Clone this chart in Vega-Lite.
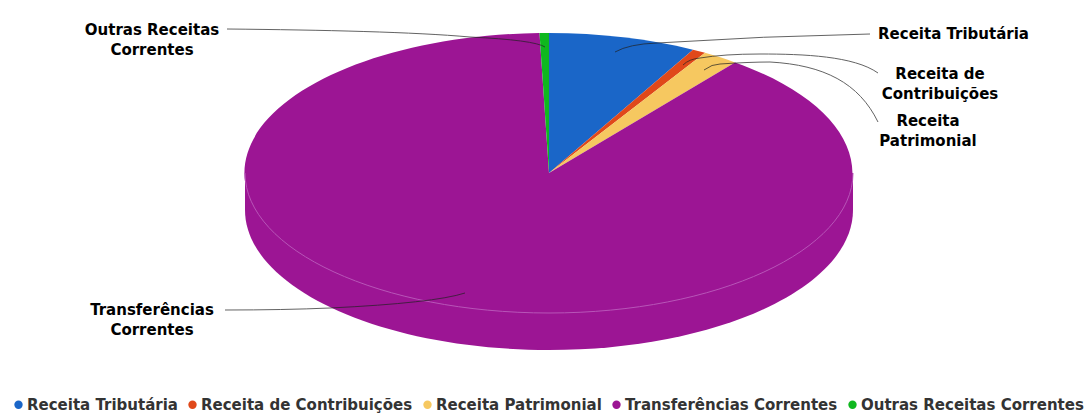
{
  "$schema": "https://vega.github.io/schema/vega-lite/v6.json",
  "width": 1088,
  "height": 346,
  "padding": {"left": 0, "top": 0, "right": 0, "bottom": 68},
  "autosize": "none",
  "background": "white",
  "config": {"view": {"stroke": null}},
  "data": {"values": [
    {"fonte": "Receita Tributária", "rotulo": "Receita Tributária", "percentual": 7.9},
    {"fonte": "Receita de Contribuições", "rotulo": "Receita de\nContribuições", "percentual": 0.8},
    {"fonte": "Receita Patrimonial", "rotulo": "Receita\nPatrimonial", "percentual": 1.9},
    {"fonte": "Transferências Correntes", "rotulo": "Transferências\nCorrentes", "percentual": 88.9},
    {"fonte": "Outras Receitas Correntes", "rotulo": "Outras Receitas\nCorrentes", "percentual": 0.5}
  ]},
  "layer": [
    {
      "transform": [{"filter": "datum.fonte === 'Transferências Correntes'"}],
      "mark": {"type": "point", "filled": true, "opacity": 1, "size": 4, "shape": "M-299,0 L-299,37 A304,140 0 0 0 309,37 L309,0 Z", "color": "#9c1594"}
    },
    {
      "mark": {"type": "point", "filled": true, "opacity": 1, "size": 4},
      "encoding": {
        "color": {"field": "fonte", "type": "nominal", "sort": null,
          "scale": {"domain": ["Receita Tributária", "Receita de Contribuições", "Receita Patrimonial", "Transferências Correntes", "Outras Receitas Correntes"], "range": ["#1a66c8", "#e0481a", "#f6c860", "#9c1594", "#0fb81f"]},
          "legend": {"title": null, "orient": "none", "legendX": 11, "legendY": 397, "direction": "horizontal", "columns": 5, "gridAlign": "each", "columnPadding": 7, "symbolType": "circle", "symbolSize": 70, "symbolOffset": 0, "labelOffset": 1, "labelFont": "DejaVu Sans", "labelFontWeight": "bold", "labelFontSize": 15, "labelColor": "#333333", "labelLimit": 400, "padding": 0}
        },
        "shape": {"field": "rotulo", "type": "nominal", "legend": null,
          "scale": {"domain": ["Receita Tributária", "Receita de\nContribuições", "Receita\nPatrimonial", "Transferências\nCorrentes", "Outras Receitas\nCorrentes"],
            "range": [
              "M5,0 L5,-140 A304,140 0 0 1 149,-123.3 Z",
              "M5,0 L149,-123.3 A304,140 0 0 1 161,-120.2 Z",
              "M5,0 L161,-120.2 A304,140 0 0 1 191,-110.6 Z",
              "M5,0 L191,-110.6 A304,140 0 1 1 -4.5,-140 Z",
              "M5,0 L-4.5,-140 A304,140 0 0 1 5,-140 Z"
            ]}}
      }
    },
    {
      "transform": [{"filter": "datum.fonte === 'Transferências Correntes'"}],
      "mark": {"type": "point", "filled": false, "opacity": 1, "size": 4, "stroke": "#b855b8", "strokeWidth": 1, "shape": "M-299,0 A304,140 0 0 0 309,0"}
    },
    {
      "transform": [{"filter": "datum.fonte === 'Receita Tributária'"}],
      "mark": {"type": "point", "filled": false, "opacity": 0.7, "size": 4, "stroke": "#222222", "strokeWidth": 1, "shape": "M71,-121 Q85,-129 113,-130 Q220,-137 326,-139"}
    },
    {
      "transform": [{"filter": "datum.fonte === 'Receita de Contribuições'"}],
      "mark": {"type": "point", "filled": false, "opacity": 0.7, "size": 4, "stroke": "#222222", "strokeWidth": 1, "shape": "M139,-108 Q145,-114 156,-115 Q180,-119 216,-119 C260,-119 310,-117 334,-100"}
    },
    {
      "transform": [{"filter": "datum.fonte === 'Receita Patrimonial'"}],
      "mark": {"type": "point", "filled": false, "opacity": 0.7, "size": 4, "stroke": "#222222", "strokeWidth": 1, "shape": "M160,-103 Q168,-109 176,-109 Q205,-111 226,-111 C280,-108 315,-90 334,-51"}
    },
    {
      "transform": [{"filter": "datum.fonte === 'Transferências Correntes'"}],
      "mark": {"type": "point", "filled": false, "opacity": 0.7, "size": 4, "stroke": "#222222", "strokeWidth": 1, "shape": "M-319,137 Q-260,137 -214,135 Q-110,130 -79,120"}
    },
    {
      "transform": [{"filter": "datum.fonte === 'Outras Receitas Correntes'"}],
      "mark": {"type": "point", "filled": false, "opacity": 0.7, "size": 4, "stroke": "#222222", "strokeWidth": 1, "shape": "M-317,-144 C-220,-143 -130,-141 -74,-136 Q-10,-133 1,-126"}
    },
    {
      "transform": [{"filter": "datum.fonte === 'Receita Tributária'"}],
      "mark": {"type": "text", "dx": 409.5, "dy": -139, "align": "center", "baseline": "middle", "font": "DejaVu Sans", "fontWeight": "bold", "fontSize": 15, "color": "#000000", "lineBreak": "\n", "lineHeight": 20},
      "encoding": {"text": {"field": "rotulo"}}
    },
    {
      "transform": [{"filter": "datum.fonte === 'Receita de Contribuições'"}],
      "mark": {"type": "text", "dx": 396, "dy": -99, "align": "center", "baseline": "middle", "font": "DejaVu Sans", "fontWeight": "bold", "fontSize": 15, "color": "#000000", "lineBreak": "\n", "lineHeight": 20},
      "encoding": {"text": {"field": "rotulo"}}
    },
    {
      "transform": [{"filter": "datum.fonte === 'Receita Patrimonial'"}],
      "mark": {"type": "text", "dx": 384, "dy": -52, "align": "center", "baseline": "middle", "font": "DejaVu Sans", "fontWeight": "bold", "fontSize": 15, "color": "#000000", "lineBreak": "\n", "lineHeight": 20},
      "encoding": {"text": {"field": "rotulo"}}
    },
    {
      "transform": [{"filter": "datum.fonte === 'Transferências Correntes'"}],
      "mark": {"type": "text", "dx": -392, "dy": 137, "align": "center", "baseline": "middle", "font": "DejaVu Sans", "fontWeight": "bold", "fontSize": 15, "color": "#000000", "lineBreak": "\n", "lineHeight": 20},
      "encoding": {"text": {"field": "rotulo"}}
    },
    {
      "transform": [{"filter": "datum.fonte === 'Outras Receitas Correntes'"}],
      "mark": {"type": "text", "dx": -392, "dy": -143, "align": "center", "baseline": "middle", "font": "DejaVu Sans", "fontWeight": "bold", "fontSize": 15, "color": "#000000", "lineBreak": "\n", "lineHeight": 20},
      "encoding": {"text": {"field": "rotulo"}}
    }
  ]
}
